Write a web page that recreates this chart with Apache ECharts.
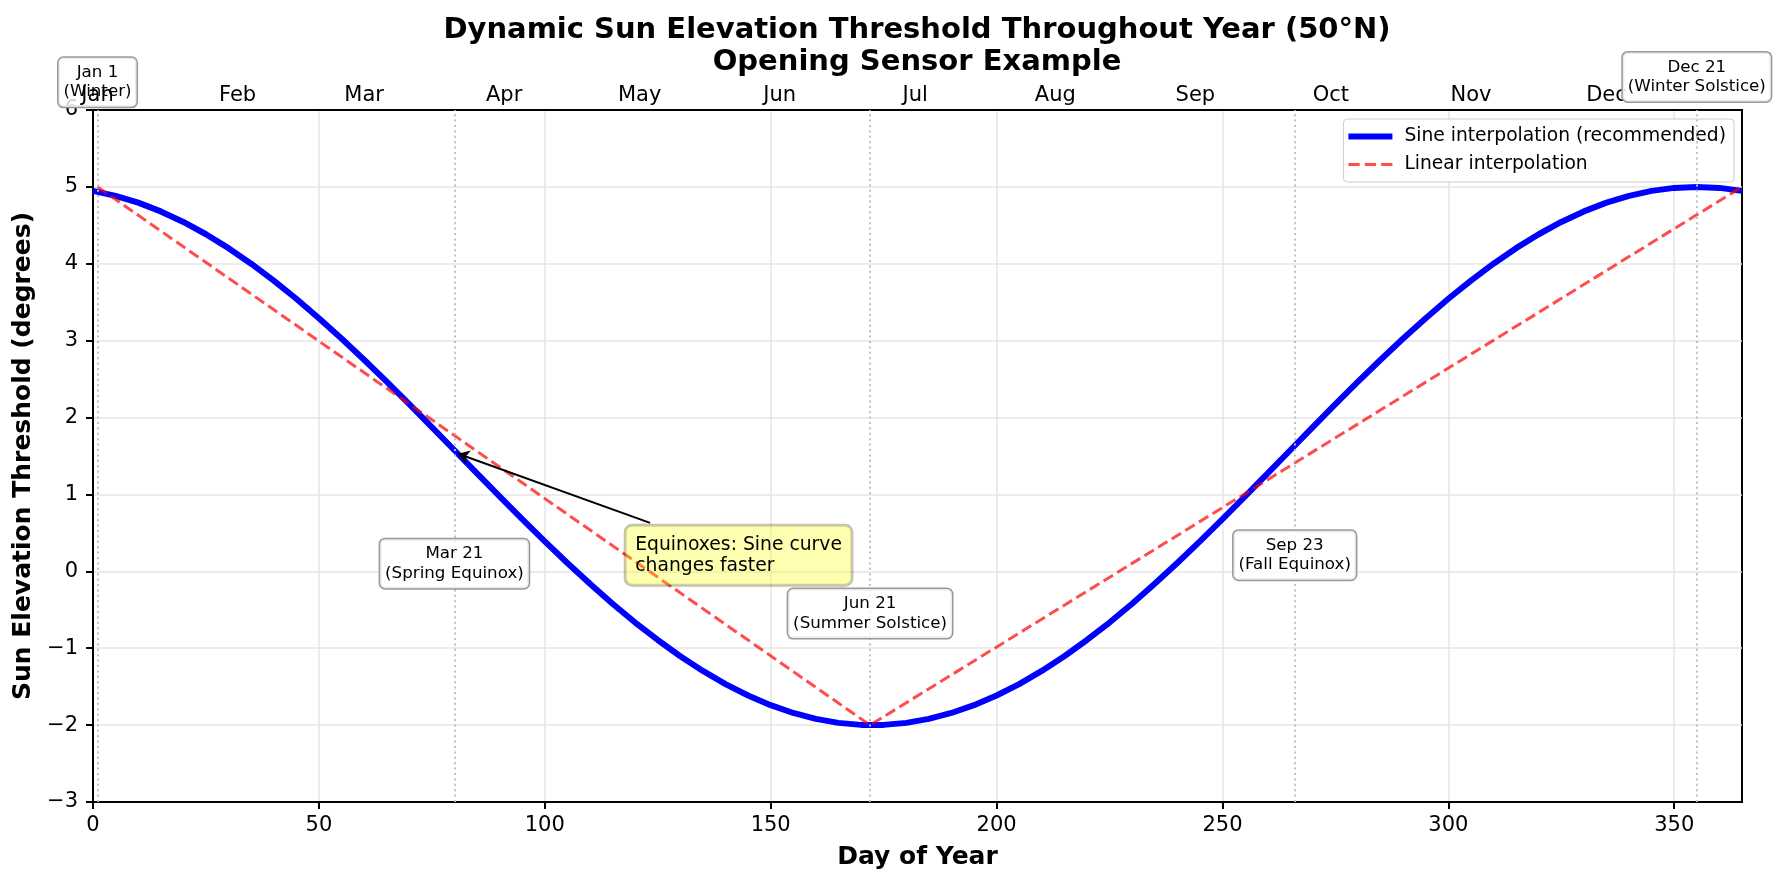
<!DOCTYPE html>
<html>
<head>
<meta charset="utf-8">
<title>Dynamic Sun Elevation Threshold</title>
<script src="https://cdn.jsdelivr.net/npm/echarts@6/dist/echarts.min.js"></script>
<style>
  html, body { margin: 0; padding: 0; background: #fff; }
  #chart { width: 1777px; height: 884px; }
</style>
</head>
<body>
<div id="chart"></div>
<script>
// sine curve, every 5 days
const sineDays = [0, 5, 10, 15, 20, 25, 30, 35, 40, 45, 50, 55, 60, 65, 70, 75, 80, 85, 90, 95,
    100, 105, 110, 115, 120, 125, 130, 135, 140, 145, 150, 155, 160, 165, 170, 175, 180, 185, 190, 195,
    200, 205, 210, 215, 220, 225, 230, 235, 240, 245, 250, 255, 260, 265, 270, 275, 280, 285, 290, 295,
    300, 305, 310, 315, 320, 325, 330, 335, 340, 345, 350, 355, 360, 365];
const sineVals = [4.948, 4.884, 4.795, 4.681, 4.544, 4.384, 4.203, 4.001, 3.781, 3.545,
    3.292, 3.028, 2.752, 2.466, 2.174, 1.876, 1.575, 1.274, 0.975, 0.679,
    0.390, 0.108, -0.162, -0.421, -0.666, -0.893, -1.104, -1.295, -1.466, -1.615,
    -1.741, -1.842, -1.919, -1.971, -1.997, -1.997, -1.971, -1.919, -1.842, -1.741,
    -1.615, -1.466, -1.295, -1.104, -0.893, -0.666, -0.421, -0.162, 0.108, 0.390,
    0.679, 0.975, 1.274, 1.575, 1.876, 2.174, 2.466, 2.752, 3.028, 3.292,
    3.545, 3.781, 4.001, 4.203, 4.384, 4.544, 4.681, 4.795, 4.884, 4.948,
    4.987, 5.000, 4.987, 4.948];

// linear interpolation knots
const linearDays = [1, 172, 365];
const linearVals = [5, -2, 5];

const monthDays = [1, 32, 60, 91, 121, 152, 182, 213, 244, 274, 305, 335];
const monthNames = ['Jan', 'Feb', 'Mar', 'Apr', 'May', 'Jun', 'Jul', 'Aug', 'Sep', 'Oct', 'Nov', 'Dec'];

const xTicks = [0, 50, 100, 150, 200, 250, 300, 350];

const eventDays = [1, 80, 172, 266, 355];
const eventTexts = ['Jan 1\n(Winter)', 'Mar 21\n(Spring Equinox)', 'Jun 21\n(Summer Solstice)',
    'Sep 23\n(Fall Equinox)', 'Dec 21\n(Winter Solstice)'];
const eventTextY = [6.36, 0.10, -0.55, 0.21, 6.43];

const FONT = 'DejaVu Sans';

const chart = echarts.init(document.getElementById('chart'));

const toPairs = (xs, ys) => xs.map((x, i) => [x, ys[i]]);
const fmtMinus = v => (v < 0 ? '\u2212' + Math.abs(v) : String(v));

const option = {
    animation: false,
    textStyle: { fontFamily: FONT },
    grid: {
        left: 93,
        right: 35,
        top: 110,
        bottom: 82,
        show: true,
        borderColor: '#000',
        borderWidth: 2
    },
    legend: {
        data: [
            { name: 'Sine interpolation (recommended)', icon: 'path://M0,0h44v6h-44z' },
            { name: 'Linear interpolation', icon: 'path://M0,0h11v3h-11zM16,0h11v3h-11zM32,0h11v3h-11z' }
        ],
        orient: 'vertical',
        right: 43,
        top: 119,
        itemWidth: 44,
        itemHeight: 14,
        itemGap: 9,
        padding: [8, 8, 8, 5],
        backgroundColor: '#fff',
        borderColor: '#cccccc',
        borderWidth: 1,
        borderRadius: 4,
        textStyle: { fontFamily: FONT, fontSize: 18.7, color: '#000', padding: [0, 0, 0, 7] }
    },
    xAxis: [
        {
            type: 'value',
            min: 0,
            max: 365,
            name: 'Day of Year',
            nameLocation: 'middle',
            nameGap: 43,
            nameTextStyle: { fontFamily: FONT, fontSize: 25, fontWeight: 'bold', color: '#000' },
            axisLine: { onZero: false, lineStyle: { color: '#000', width: 2 } },
            axisTick: { customValues: xTicks, length: 7, lineStyle: { color: '#000', width: 2 } },
            axisLabel: {
                customValues: xTicks,
                fontFamily: FONT, fontSize: 21, color: '#000', margin: 13
            },
            splitLine: { show: true, lineStyle: { color: '#e6e6e6', width: 1.5 } }
        },
        {
            type: 'value',
            position: 'top',
            min: 0,
            max: 365,
            z: 3,
            axisLine: { onZero: false, lineStyle: { color: '#000', width: 2 } },
            axisTick: { show: false },
            axisLabel: {
                customValues: monthDays,
                fontFamily: FONT, fontSize: 21, color: '#000', margin: 4,
                formatter: v => monthNames[monthDays.indexOf(v)] || ''
            },
            splitLine: { show: false }
        }
    ],
    yAxis: {
        type: 'value',
        min: -3,
        max: 6,
        interval: 1,
        name: 'Sun Elevation Threshold (degrees)',
        nameLocation: 'middle',
        nameGap: 52,
        nameTextStyle: { fontFamily: FONT, fontSize: 25, fontWeight: 'bold', color: '#000' },
        axisLine: { show: true, onZero: false, lineStyle: { color: '#000', width: 2 } },
        axisTick: { show: true, length: 7, lineStyle: { color: '#000', width: 2 } },
        axisLabel: { fontFamily: FONT, fontSize: 21, color: '#000', margin: 15, formatter: fmtMinus },
        splitLine: { show: true, lineStyle: { color: '#e6e6e6', width: 1.5 } }
    },
    series: [
        {
            name: 'Sine interpolation (recommended)',
            type: 'line',
            data: toPairs(sineDays, sineVals),
            showSymbol: false,
            symbol: 'none',
            lineStyle: { color: '#0000ff', width: 6 },
            itemStyle: { color: '#0000ff' },
            markLine: {
                silent: true,
                symbol: ['none', 'arrow'],
                symbolSize: 11,
                label: { show: false },
                lineStyle: { color: '#000', width: 2, type: 'solid' },
                data: [[{ coord: [123.3, 0.63] }, { coord: [80.8, 1.53] }]]
            }
        },
        {
            name: 'Linear interpolation',
            type: 'line',
            data: toPairs(linearDays, linearVals),
            showSymbol: false,
            symbol: 'none',
            lineStyle: { color: 'rgba(255,0,0,0.7)', width: 3, type: [11, 5] },
            itemStyle: { color: 'rgba(255,0,0,0.7)' },
            markLine: {
                silent: true,
                symbol: ['none', 'none'],
                label: { show: false },
                lineStyle: { color: '#c0c0c0', width: 2, type: [2, 3.4] },
                data: eventDays.map(d => ({ xAxis: d }))
            }
        }
    ]
};

chart.setOption(option);

// annotation boxes placed through the chart's own scales
const boxStyle = {
    font: '16.7px "DejaVu Sans"',
    fill: '#000',
    align: 'center',
    verticalAlign: 'middle',
    lineHeight: 19.5,
    backgroundColor: 'rgba(255,255,255,0.8)',
    borderColor: '#999',
    borderWidth: 1.5,
    borderRadius: 5,
    padding: [5, 5]
};

const graphics = [
    {
        type: 'text',
        x: 917,
        y: 46,
        z: 10,
        style: {
            text: 'Dynamic Sun Elevation Threshold Throughout Year (50°N)\nOpening Sensor Example',
            font: 'bold 29px "DejaVu Sans"',
            fill: '#000',
            align: 'center',
            verticalAlign: 'middle',
            lineHeight: 32
        }
    }
];

eventDays.forEach((d, i) => {
    const p = chart.convertToPixel({ gridIndex: 0 }, [d, eventTextY[i]]);
    graphics.push({
        type: 'text',
        x: p[0],
        y: p[1],
        z: i === 0 ? 1 : 5,
        style: Object.assign({}, boxStyle, { text: eventTexts[i] })
    });
});

const noteAt = chart.convertToPixel({ gridIndex: 0 }, [117.8, 0.21]);
graphics.push({
    type: 'text',
    x: noteAt[0],
    y: noteAt[1],
    z: 6,
    style: {
        text: 'Equinoxes: Sine curve\nchanges faster',
        font: '18.75px "DejaVu Sans"',
        fill: '#000',
        align: 'left',
        verticalAlign: 'middle',
        lineHeight: 21,
        backgroundColor: 'rgba(255,255,0,0.3)',
        borderColor: 'rgba(0,0,0,0.25)',
        borderWidth: 1.5,
        borderRadius: 7,
        padding: [9, 10]
    }
});

chart.setOption({ graphic: graphics });
</script>
</body>
</html>
